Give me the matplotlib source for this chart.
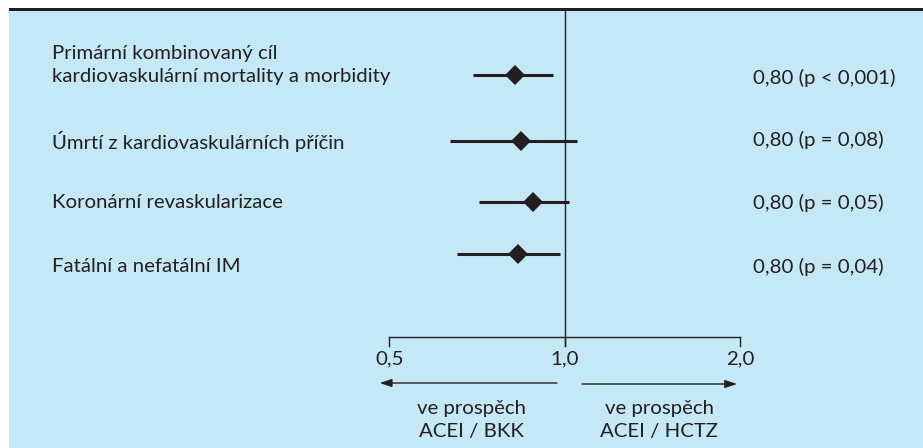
import matplotlib.pyplot as plt
from matplotlib.patches import Rectangle
import numpy as np

plt.rcParams['font.family'] = ['Lato', 'DejaVu Sans']

labels = ["Primární kombinovaný cíl\nkardiovaskulární mortality a morbidity",
          "Úmrtí z kardiovaskulárních příčin",
          "Koronární revaskularizace",
          "Fatální a nefatální IM"]
hr = [0.82, 0.84, 0.88, 0.83]
ci_low = [0.695, 0.635, 0.712, 0.653]
ci_high = [0.954, 1.048, 1.016, 0.981]
right_text = ["0,80 (p < 0,001)", "0,80 (p = 0,08)", "0,80 (p = 0,05)", "0,80 (p = 0,04)"]
ticks = [0.5, 1.0, 2.0]
tick_labels = ["0,5", "1,0", "2,0"]

ink = '#231f20'
fs = 14.7
W, H = 923, 448
fig = plt.figure(figsize=(W / 100, H / 100), dpi=100)

# blue panel + top rule
fig.patches.append(Rectangle((9 / W, 0), 1, 1 - 11 / H, transform=fig.transFigure,
                             facecolor='#c5e8f7', edgecolor='none', zorder=0))
fig.patches.append(Rectangle((9 / W, 1 - 11 / H), 1, 3 / H, transform=fig.transFigure,
                             facecolor=ink, edgecolor='none', zorder=0))

ax = fig.add_axes([0, 0, 1, 1])
ax.set_zorder(2)
ax.patch.set_alpha(0)
ax.set_xscale('log', base=2)
ax.set_xlim(2 ** (-565 / 175.5), 2 ** ((W - 565) / 175.5))
ax.set_ylim(H, 0)
ax.axis('off')

row_y = [75, 141, 202, 254]
label_y = [65, 141, 203, 267]
right_y = [78, 140, 203, 267]
axis_y = 337

for i in range(len(hr)):
    ax.plot([ci_low[i], ci_high[i]], [row_y[i], row_y[i]], color=ink, lw=2.2,
            solid_capstyle='butt', zorder=3)
    ax.plot(hr[i], row_y[i], marker='D', ms=9.8, mew=0, color=ink, zorder=4)
    ax.text(52 / W, label_y[i], labels[i], transform=ax.get_yaxis_transform(),
            ha='left', va='center', fontsize=fs, color=ink, linespacing=1.4)
    ax.text(753 / W, right_y[i], right_text[i], transform=ax.get_yaxis_transform(),
            ha='left', va='center', fontsize=fs, color=ink)

# reference line and axis
ax.plot([1, 1], [11, axis_y + 9], color=ink, lw=1.0, zorder=2)
ax.plot([ticks[0], ticks[-1]], [axis_y, axis_y], color=ink, lw=1.0)
for t, tl in zip(ticks, tick_labels):
    ax.plot([t, t], [axis_y, axis_y + 9], color=ink, lw=1.0)
    ax.text(t, 359, tl, ha='center', va='center', fontsize=fs, color=ink)

# direction arrows
ax.annotate('', xy=(0.481, 383), xytext=(0.969, 383),
            arrowprops=dict(arrowstyle='-|>,head_length=0.6,head_width=0.2', color=ink,
                            lw=1.0, mutation_scale=12, shrinkA=0, shrinkB=0))
ax.annotate('', xy=(1.973, 384), xytext=(1.069, 384),
            arrowprops=dict(arrowstyle='-|>,head_length=0.6,head_width=0.2', color=ink,
                            lw=1.0, mutation_scale=12, shrinkA=0, shrinkB=0))
ax.text(0.69, 420, "ve prospěch\nACEI / BKK", ha='center', va='center',
        fontsize=fs, color=ink, linespacing=1.4)
ax.text(1.45, 420, "ve prospěch\nACEI / HCTZ", ha='center', va='center',
        fontsize=fs, color=ink, linespacing=1.4)

fig.savefig('out.png', dpi=100)
